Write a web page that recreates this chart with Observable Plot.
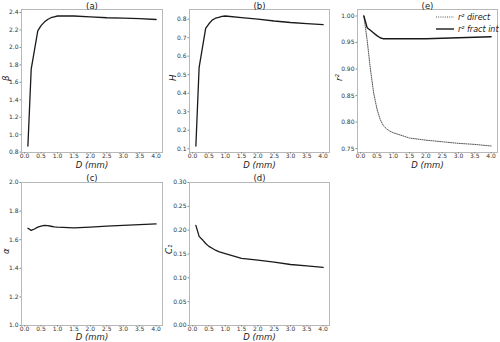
<!DOCTYPE html>
<html><head><meta charset="utf-8">
<script src="https://cdn.jsdelivr.net/npm/d3@7"></script>
<script src="https://cdn.jsdelivr.net/npm/@observablehq/plot@0.6"></script>
<style>
html,body{margin:0;padding:0;background:#fff;}
#wrap{position:relative;width:500px;height:342px;overflow:hidden;font-family:"DejaVu Sans",sans-serif;}
</style></head>
<body><div id="wrap"></div>
<script>
const D      = [0.1,0.2,0.3,0.4,0.5,0.6,0.7,0.8,0.9,1.0,1.5,2.0,2.5,3.0,3.5,4.0];
const beta   = [0.87,1.75,1.97,2.19,2.25,2.29,2.32,2.34,2.35,2.36,2.36,2.35,2.34,2.335,2.33,2.32];
const H      = [0.115,0.54,0.645,0.75,0.775,0.795,0.805,0.81,0.815,0.817,0.808,0.80,0.79,0.782,0.776,0.77];
const alpha  = [1.68,1.665,1.675,1.688,1.695,1.70,1.698,1.694,1.69,1.688,1.683,1.688,1.695,1.70,1.705,1.71];
const C1     = [0.21,0.187,0.18,0.172,0.166,0.162,0.158,0.155,0.153,0.151,0.141,0.137,0.133,0.128,0.125,0.122];
const r2direct = [1.0,0.955,0.90,0.855,0.825,0.805,0.793,0.787,0.783,0.78,0.77,0.766,0.763,0.76,0.758,0.755];
const r2fract  = [1.0,0.978,0.973,0.968,0.963,0.959,0.957,0.957,0.957,0.957,0.957,0.957,0.958,0.959,0.960,0.961];
const xTicks = [0,0.5,1.0,1.5,2.0,2.5,3.0,3.5,4.0];
const betaTicks = [0.8,1.0,1.2,1.4,1.6,1.8,2.0,2.2,2.4];
const HTicks = [0.1,0.2,0.3,0.4,0.5,0.6,0.7,0.8];
const alphaTicks = [1.0,1.2,1.4,1.6,1.8,2.0];
const C1Ticks = [0,0.05,0.10,0.15,0.20,0.25,0.30];
const r2Ticks = [0.75,0.80,0.85,0.90,0.95,1.00];
const xLabel = "D (mm)";

const rows = D.map((d,i)=>({D:d, beta:beta[i], H:H[i], alpha:alpha[i], C1:C1[i], r2d:r2direct[i], r2f:r2fract[i]}));

function padDomain(vals){const lo=d3.min(vals),hi=d3.max(vals),m=(hi-lo)*0.05;return [lo-m,hi+m];}

const wrap = document.getElementById("wrap");
function panel({left, top, width, height, ml, mr, mt, mb, ydom, yticks, yfmt, ylabel, yoff, xoff, toff, title, series}){
  const marks = [
    Plot.frame({stroke:"#b8b8b8", strokeWidth:1}),
    Plot.axisX({ticks:xTicks, tickFormat:d3.format(".1f"), tickSize:1.5, tickPadding:0, stroke:"#888", fill:"#333", label:null, fontSize:6}),
    Plot.axisY({ticks:yticks, tickFormat:d3.format(yfmt), tickSize:1.5, tickPadding:1.5, stroke:"#888", fill:"#333", label:null, fontSize:6}),
    ...series.map(s => Plot.line(rows, {x:"D", y:s.key, stroke:s.color||"#1a1a1a", strokeWidth:s.w||1.3, strokeDasharray:s.dash})),
    Plot.text([title], {text:d=>d, frameAnchor:"top", lineAnchor:"bottom", dy:toff, fontSize:8.5, fill:"#222"}),
    Plot.text([xLabel], {text:d=>d, frameAnchor:"bottom", lineAnchor:"middle", dy:xoff, fontSize:8.5, fontStyle:"italic", fill:"#222"}),
    Plot.text([ylabel], {text:d=>d, frameAnchor:"left", dx:yoff, rotate:-90, fontSize:8.5, fontStyle:"italic", fill:"#222"})
  ];
  const svg = Plot.plot({
    width, height, marginLeft:ml, marginRight:mr, marginTop:mt, marginBottom:mb,
    x:{domain:padDomain(D)},
    y:{domain:ydom},
    style:{fontSize:"6px", fontFamily:"DejaVu Sans", background:"transparent", overflow:"visible"},
    marks
  });
  svg.style.position = "absolute";
  svg.style.left = left+"px"; svg.style.top = top+"px";
  wrap.appendChild(svg);
}

panel({left:0, top:0, width:166, height:172, ml:21, mr:4, mt:9, mb:20, yoff:-15, xoff:13, toff:-1,
  ydom:padDomain(beta), yticks:betaTicks, yfmt:".1f", ylabel:"β", title:"(a)", series:[{key:"beta"}]});
panel({left:166, top:0, width:167, height:172, ml:23, mr:4, mt:9, mb:20, yoff:-16, xoff:13, toff:-1,
  ydom:padDomain(H), yticks:HTicks, yfmt:".1f", ylabel:"H", title:"(b)", series:[{key:"H"}]});
panel({left:333, top:0, width:167, height:172, ml:24, mr:3, mt:9, mb:20, yoff:-18, xoff:13, toff:-1,
  ydom:padDomain(r2direct.concat(r2fract)), yticks:r2Ticks, yfmt:".2f", ylabel:"r²", title:"(e)",
  series:[{key:"r2d", dash:"1,1.2", w:1, color:"#555"},{key:"r2f", w:1.4}]});
panel({left:0, top:172, width:166, height:170, ml:21, mr:4, mt:10, mb:17, yoff:-15, xoff:12, toff:-2,
  ydom:[1.0,2.0], yticks:alphaTicks, yfmt:".1f", ylabel:"α", title:"(c)", series:[{key:"alpha"}]});
panel({left:166, top:172, width:167, height:170, ml:23, mr:4, mt:10, mb:17, yoff:-20, xoff:12, toff:-2,
  ydom:[0,0.30], yticks:C1Ticks, yfmt:".2f", ylabel:"C₁", title:"(d)", series:[{key:"C1"}]});

// legend for panel (e)
const leg = document.createElementNS("http://www.w3.org/2000/svg","svg");
leg.setAttribute("width","70"); leg.setAttribute("height","26");
leg.style.position="absolute"; leg.style.left="433px"; leg.style.top="10px";
leg.innerHTML = `
<line x1="3" x2="21" y1="7" y2="7" stroke="#555" stroke-width="1" stroke-dasharray="1,1.2"/>
<text x="25" y="10" font-family="DejaVu Sans" font-size="8" font-style="italic" fill="#222">r² direct</text>
<line x1="3" x2="21" y1="19" y2="19" stroke="#1a1a1a" stroke-width="1.4"/>
<text x="25" y="22" font-family="DejaVu Sans" font-size="8" font-style="italic" fill="#222">r² fract int</text>`;
wrap.appendChild(leg);
</script></body></html>
